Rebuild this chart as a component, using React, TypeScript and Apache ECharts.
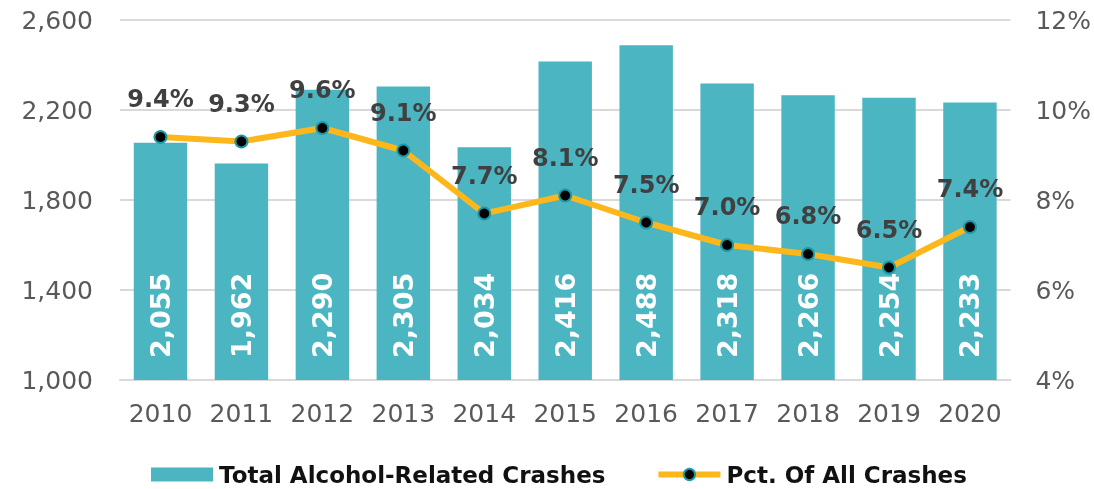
import React, { useEffect, useRef } from "react";
import * as echarts from "echarts";

const years = ["2010", "2011", "2012", "2013", "2014", "2015", "2016", "2017", "2018", "2019", "2020"];
const crashes = [2055, 1962, 2290, 2305, 2034, 2416, 2488, 2318, 2266, 2254, 2233];
const pct = [9.4, 9.3, 9.6, 9.1, 7.7, 8.1, 7.5, 7.0, 6.8, 6.5, 7.4];

const FONT = "'DejaVu Sans', sans-serif";

export default function App() {
  const ref = useRef<HTMLDivElement>(null);
  useEffect(() => {
    if (!ref.current) return;
    const chart = echarts.init(ref.current, undefined, { renderer: "svg" });
    chart.setOption({
      animation: false,
      textStyle: { fontFamily: FONT },
      grid: { left: 120, right: 79, top: 20, bottom: 109 },
      legend: {
        top: 458,
        left: 146,
        itemWidth: 62,
        itemHeight: 14,
        itemGap: 50,
        textStyle: { fontSize: 23, color: "#111", fontWeight: "bold", fontFamily: FONT, padding: [0, 0, 0, 1] },
        data: [
          { name: "Total Alcohol-Related Crashes", icon: "rect" },
          {
            name: "Pct. Of All Crashes",
            lineStyle: { width: 6, color: "#fdb71a" },
            itemStyle: { color: "#000", borderColor: "#1a9aa8", borderWidth: 2 },
          },
        ],
      },
      xAxis: {
        type: "category",
        data: years,
        axisTick: { show: false },
        axisLine: { lineStyle: { color: "#d9d9d9", width: 2 } },
        axisLabel: { interval: 0, fontSize: 25, color: "#595959", margin: 21, fontFamily: FONT },
      },
      yAxis: [
        {
          type: "value",
          min: 1000,
          max: 2600,
          interval: 400,
          axisLabel: {
            fontSize: 25,
            color: "#595959",
            margin: 27,
            fontFamily: FONT,
            formatter: (v: number) => v.toLocaleString("en-US"),
          },
          splitLine: { lineStyle: { color: "#d9d9d9", width: 2 } },
          axisLine: { show: false },
          axisTick: { show: false },
        },
        {
          type: "value",
          min: 4,
          max: 12,
          interval: 2,
          position: "right",
          axisLabel: { fontSize: 25, color: "#595959", margin: 25, fontFamily: FONT, formatter: "{value}%" },
          splitLine: { show: false },
          axisLine: { show: false },
          axisTick: { show: false },
        },
      ],
      series: [
        {
          name: "Total Alcohol-Related Crashes",
          type: "bar",
          data: crashes,
          barCategoryGap: "34%",
          itemStyle: { color: "#4bb5c1" },
          label: {
            show: true,
            position: "insideBottom",
            rotate: 90,
            align: "left",
            verticalAlign: "middle",
            distance: 22,
            color: "#fff",
            fontSize: 27,
            fontWeight: "bold",
            fontFamily: FONT,
            formatter: (p: any) => Number(p.value).toLocaleString("en-US"),
          },
        },
        {
          name: "Pct. Of All Crashes",
          type: "line",
          yAxisIndex: 1,
          data: pct,
          symbol: "circle",
          symbolSize: 12,
          lineStyle: { color: "#fdb71a", width: 6 },
          itemStyle: { color: "#000", borderColor: "#1a9aa8", borderWidth: 2 },
          label: {
            show: true,
            position: "top",
            distance: 19,
            color: "#404040",
            fontSize: 24,
            fontWeight: "bold",
            fontFamily: FONT,
            formatter: (p: any) => Number(p.value).toFixed(1) + "%",
          },
        },
      ],
    });
    return () => chart.dispose();
  }, []);
  return <div ref={ref} style={{ position: "fixed", left: 0, top: 0, width: 1094, height: 489 }} />;
}
